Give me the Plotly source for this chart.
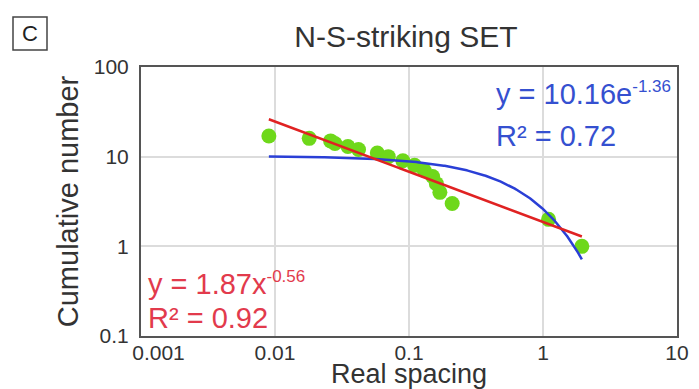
import numpy as np
import plotly.graph_objects as go

# Measured spacings and their cumulative counts
spacing = [0.009, 0.018, 0.026, 0.028, 0.035, 0.042, 0.058, 0.07, 0.09,
           0.11, 0.13, 0.15, 0.16, 0.17, 0.21, 1.1, 1.95]
cum_number = [17, 16, 15, 14, 13, 12, 11, 10, 9, 8, 7, 6, 5, 4, 3, 2, 1]

# Fitted trend parameters
pow_a, pow_b, pow_r2 = 1.87, -0.56, 0.92
exp_a, exp_b, exp_r2 = 10.16, -1.36, 0.72

x_ticks = [0.001, 0.01, 0.1, 1, 10]
x_ticklabels = ["\u00a0" * 6 + "0.001", "0.01", "0.1", "1", "10"]
y_ticks = [0.1, 1, 10, 100]
y_ticklabels = ["0.1", "1", "10", "100"]

FONT = "Liberation Sans, Arial, sans-serif"
L, R, T, B = 141, 22, 67, 53
W, H = 699, 389
PW, PH = W - L - R, H - T - B


def px_x(px):
    return (px - L) / PW


def px_y(py):
    return (H - B - py) / PH


xs = np.logspace(np.log10(min(spacing)), np.log10(max(spacing)), 300)
pow_curve = pow_a * xs ** pow_b
exp_curve = exp_a * np.exp(exp_b * xs)

fig = go.Figure()
fig.add_trace(go.Scatter(
    x=spacing, y=cum_number, mode="markers",
    marker=dict(size=15, color="#6ed81a", line=dict(width=0)),
    showlegend=False, hoverinfo="skip"))
fig.add_trace(go.Scatter(
    x=xs, y=exp_curve, mode="lines",
    line=dict(color="#2a3fd6", width=2.5), showlegend=False))
fig.add_trace(go.Scatter(
    x=xs, y=pow_curve, mode="lines",
    line=dict(color="#e02222", width=2.5), showlegend=False))

axis_common = dict(
    type="log", showgrid=True, gridcolor="#dcdcdc", gridwidth=1.5,
    showline=True, linecolor="#555555", linewidth=2, mirror=True,
    ticks="", zeroline=False, automargin=False,
    tickfont=dict(family=FONT, size=21, color="#333333"),
)

fig.update_layout(
    width=W, height=H,
    margin=dict(l=L, r=R, t=T, b=B),
    paper_bgcolor="white", plot_bgcolor="white",
    font=dict(family=FONT, color="#333333"),
    title=dict(text="N-S-striking SET", x=px_x(406), xref="paper",
               xanchor="center", y=1 - 36 / H, yref="container",
               yanchor="middle",
               font=dict(family=FONT, size=30, color="#333333")),
    xaxis=dict(axis_common, range=[-3, 1], tickvals=x_ticks,
               ticktext=x_ticklabels, ticklabelstandoff=-3,
               title=dict(text="Real spacing", standoff=0,
                          font=dict(family=FONT, size=27, color="#333333"))),
    yaxis=dict(axis_common, range=[-1, 2], tickvals=y_ticks,
               ticktext=y_ticklabels, ticklabelstandoff=6,
               title=dict(text="Cumulative number", standoff=7,
                          font=dict(family=FONT, size=29, color="#333333"))),
)

# Panel letter in a box
fig.add_shape(type="rect", xref="paper", yref="paper",
              x0=px_x(13), x1=px_x(47), y0=px_y(50), y1=px_y(17),
              line=dict(color="#444444", width=1.5), fillcolor="white")
fig.add_annotation(text="C", xref="paper", yref="paper",
                   x=px_x(30), y=px_y(34), showarrow=False,
                   xanchor="center", yanchor="middle",
                   font=dict(family=FONT, size=22, color="#222222"))

# Trend equations
blue_txt = "#3550d0"
red_txt = "#e23a4c"
SUP = "<sup><span style='font-size:17px'>{}</span></sup>"
fig.add_annotation(text=f"y = {exp_a:.2f}e" + SUP.format(f"{exp_b:.2f}"),
                   xref="paper", yref="paper", x=px_x(494), y=px_y(112),
                   xanchor="left", yanchor="bottom", showarrow=False,
                   font=dict(family=FONT, size=29, color=blue_txt))
fig.add_annotation(text=f"R² = {exp_r2:.2f}",
                   xref="paper", yref="paper", x=px_x(494), y=px_y(136),
                   xanchor="left", yanchor="middle", showarrow=False,
                   font=dict(family=FONT, size=29, color=blue_txt))
fig.add_annotation(text=f"y = {pow_a:.2f}x" + SUP.format(f"{pow_b:.2f}"),
                   xref="paper", yref="paper", x=px_x(146), y=px_y(302),
                   xanchor="left", yanchor="bottom", showarrow=False,
                   font=dict(family=FONT, size=29, color=red_txt))
fig.add_annotation(text=f"R² = {pow_r2:.2f}",
                   xref="paper", yref="paper", x=px_x(146), y=px_y(318),
                   xanchor="left", yanchor="middle", showarrow=False,
                   font=dict(family=FONT, size=29, color=red_txt))

fig.write_html("out.html")
